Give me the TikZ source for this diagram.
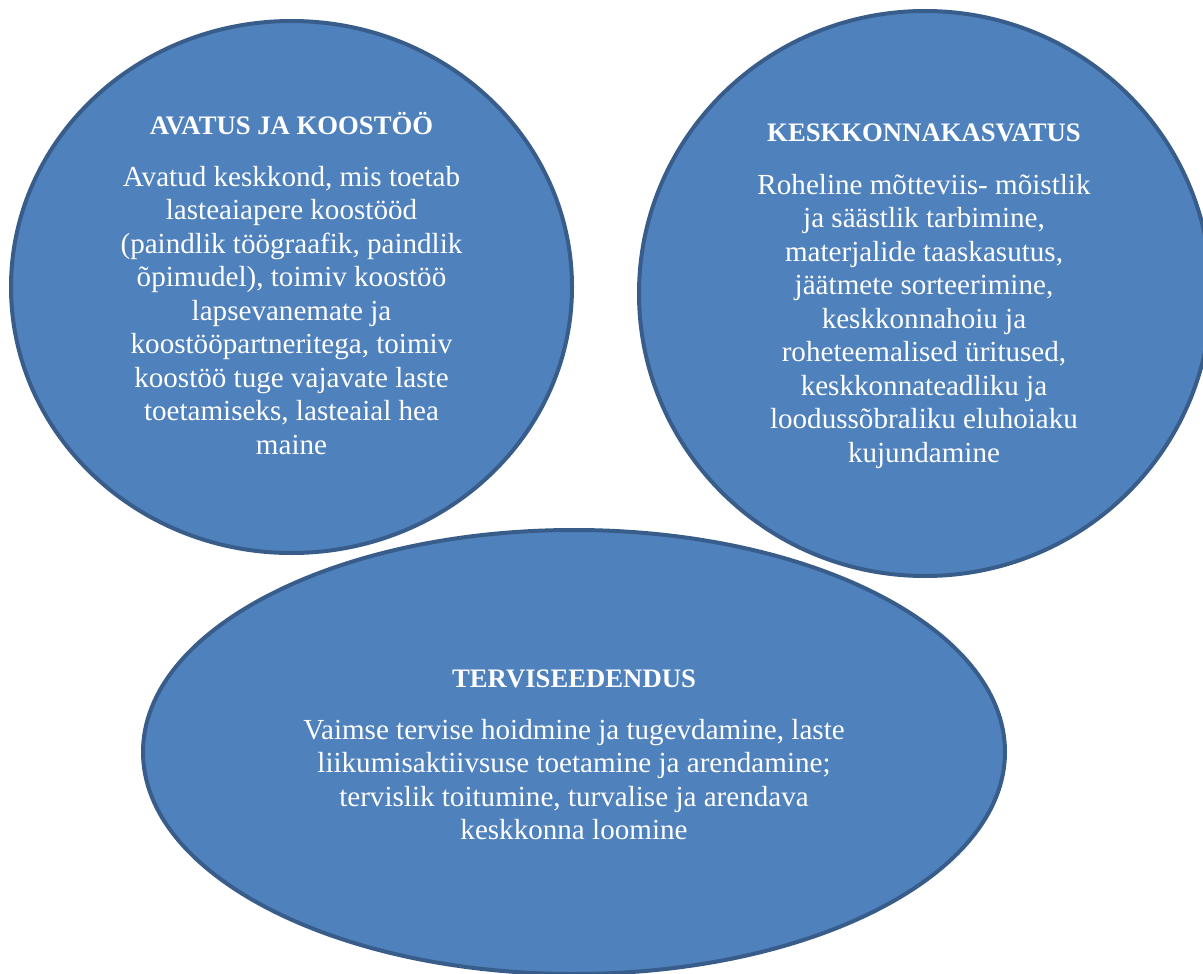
\documentclass[tikz,border=0pt]{standalone}
\usepackage{fontspec}
\setmainfont{Liberation Serif}
\usetikzlibrary{shapes.geometric}
\definecolor{bfill}{HTML}{4F81BD}
\definecolor{bline}{HTML}{385D8A}
\begin{document}
\begin{tikzpicture}[x=1pt,y=-1pt,
  blob/.style={ellipse, fill=bfill, draw=bline, line width=4pt, inner sep=0pt},
  ttl/.style={text=white, font=\fontsize{26.7}{30}\selectfont\bfseries, anchor=base, inner sep=0pt},
  body/.style={text=white, font=\fontsize{29.1}{33.5}\selectfont, align=center, anchor=base, inner sep=0pt}]
\useasboundingbox (0,0) rectangle (1203,974);
\node[blob, minimum width=561pt, minimum height=532pt] (e1) at (291.5,287) {};
\node[blob, minimum width=572pt, minimum height=565pt] (e2) at (925,293.5) {};
\node[blob, minimum width=862pt, minimum height=444pt] (e3) at (574,752) {};

\node[ttl] (t1) at (291.5,134) {AVATUS JA KOOSTÖÖ};
% anchor=base is the baseline of the last line
\node[body] (b1) at (291.5,454) {Avatud keskkond, mis toetab\\ lasteaiapere koostööd\\ (paindlik töögraafik, paindlik\\ õpimudel), toimiv koostöö\\ lapsevanemate ja\\ koostööpartneritega, toimiv\\ koostöö tuge vajavate laste\\ toetamiseks, lasteaial hea\\ maine};

\node[ttl] (t2) at (924,142) {KESKKONNAKASVATUS};
\node[body] (b2) at (924,462) {Roheline mõtteviis- mõistlik\\ ja säästlik tarbimine,\\ materjalide taaskasutus,\\ jäätmete sorteerimine,\\ keskkonnahoiu ja\\ roheteemalised üritused,\\ keskkonnateadliku ja\\ loodussõbraliku eluhoiaku\\ kujundamine};

\node[ttl] (t3) at (574,687) {TERVISEEDENDUS};
\node[body] (b3) at (574,839.5) {Vaimse tervise hoidmine ja tugevdamine, laste\\ liikumisaktiivsuse toetamine ja arendamine;\\ tervislik toitumine, turvalise ja arendava\\ keskkonna loomine};
\end{tikzpicture}
\end{document}
